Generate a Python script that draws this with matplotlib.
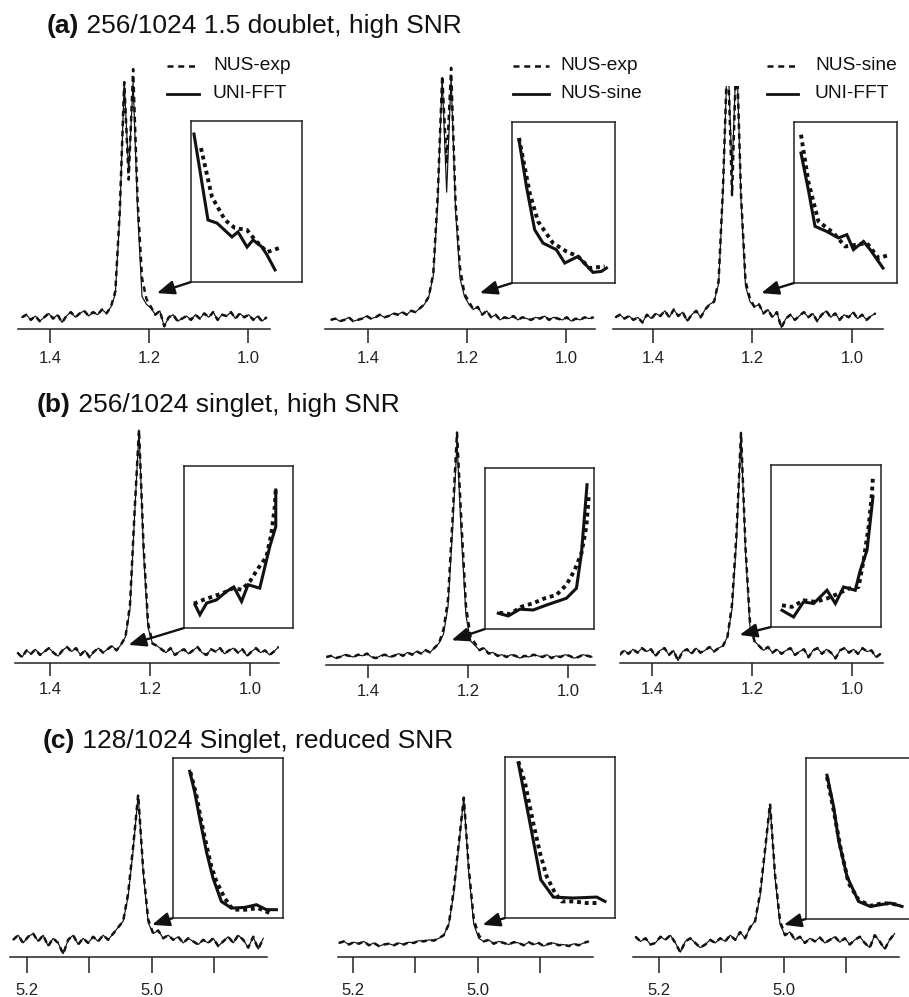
import numpy as np
import matplotlib
matplotlib.use("Agg")
import matplotlib.pyplot as plt
from matplotlib.lines import Line2D

plt.rcParams['font.family'] = ['Liberation Sans', 'DejaVu Sans']

# ---------------- data ----------------
# row (a): 1.5 doublet, chemical shift grid step 0.009 ppm
a1_solid = [0.01, 0.02, 0.00, 0.015, -0.005, 0.01, 0.025, 0.005, 0.02, -0.01,
            0.015, 0.03, 0.01, 0.025, 0.035, 0.015, 0.03, 0.02, 0.04, 0.025,
            0.05, 0.10, 0.40, 0.915, 0.565, 0.915, 0.42, 0.09, 0.06,
            0.045, 0.02, 0.035, -0.025, 0.01, 0.02, -0.005, 0.005, 0.015, 0.0,
            0.02, 0.005, 0.025, 0.01, 0.03, 0.0, 0.02, 0.015, 0.03, 0.005,
            0.025, 0.01, 0.02, 0.0, 0.015, -0.005, 0.01]
a1_dash_peak = {21: 0.11, 22: 0.42, 23: 0.915, 24: 0.54, 25: 0.965, 26: 0.46, 27: 0.16, 28: 0.08, 29: 0.05}

a2_solid = [0.0, 0.005, -0.005, 0.0, 0.01, -0.005, 0.0, 0.005, 0.015, 0.005,
            0.01, 0.02, 0.01, 0.015, 0.025, 0.02, 0.03, 0.02, 0.035, 0.03, 0.045,
            0.06, 0.09, 0.17, 0.45, 0.935, 0.49, 0.935, 0.42, 0.16, 0.09, 0.06,
            0.04, 0.05, 0.02, 0.035, 0.01, 0.02, 0.0, 0.01, 0.005, 0.015,
            0.0, 0.01, 0.005, 0.0, 0.01, 0.005, 0.015, 0.0, 0.01, 0.005,
            0.0, 0.01, -0.005, 0.005, 0.0, 0.01, 0.005, 0.01]
a2_dash_peak = {23: 0.18, 24: 0.48, 25: 0.94, 26: 0.60, 27: 0.97, 28: 0.45, 29: 0.20, 30: 0.10, 31: 0.07}

a3_solid = [0.01, 0.02, 0.005, 0.015, 0.0, 0.01, -0.01, 0.02, 0.005, 0.025,
            0.015, 0.035, 0.01, 0.04, 0.015, 0.03, -0.005, 0.02, 0.035, 0.01, 0.04, 0.06,
            0.07, 0.14, 0.50, 1.05, 0.565, 1.05, 0.46, 0.13, 0.07,
            0.05, 0.06, 0.025, 0.04, 0.01, 0.03, -0.03, 0.005, 0.02, 0.0,
            0.015, 0.03, 0.01, 0.025, -0.005, 0.02, 0.035, 0.01, 0.025, 0.0,
            0.02, 0.01, 0.03, 0.005, 0.02, 0.0, 0.015, 0.025]
a3_dash_peak = {23: 0.15, 24: 0.52, 26: 0.48, 28: 0.48, 29: 0.15, 30: 0.08}

# row (b): singlet
b1_solid = [0.01, -0.01, 0.02, 0.005, 0.025, 0.0, 0.015, 0.03, 0.01, -0.005,
            0.02, 0.035, 0.015, 0.03, 0.0, 0.02, -0.01, 0.015, 0.03, 0.01,
            0.025, 0.04, 0.02, 0.045,
            0.08, 0.20, 0.60, 0.984, 0.45, 0.12, 0.05,
            0.04, 0.025, 0.01, 0.03, 0.0, 0.015, 0.025, 0.005, 0.02, 0.035,
            0.01, 0.0, 0.025, 0.015, 0.03, 0.005, 0.02, 0.03, 0.01, 0.025,
            -0.005, 0.015, 0.03, 0.01, 0.02, 0.0, 0.015, 0.035]
b1_dash_peak = {25: 0.22, 26: 0.62, 28: 0.48, 29: 0.14}

b2_solid = [0.0, 0.005, -0.005, 0.0, 0.01, 0.005, 0.0, 0.01, 0.005, 0.015,
            0.0, -0.005, 0.005, 0.01, 0.0, 0.005, 0.015, 0.005, 0.02, 0.01,
            0.025, 0.015, 0.03, 0.02, 0.04, 0.06,
            0.10, 0.22, 0.55, 0.936, 0.52, 0.18, 0.07,
            0.05, 0.03, 0.04, 0.015, 0.02, 0.005, 0.01, 0.0, 0.01, 0.005,
            -0.005, 0.005, 0.0, 0.01, 0.005, 0.0, 0.01, -0.005, 0.005, 0.0,
            0.01, 0.005, -0.005, 0.0, 0.01, 0.005, 0.0]
b2_dash_peak = {26: 0.12, 27: 0.25, 28: 0.60, 29: 0.98, 30: 0.58, 31: 0.22, 32: 0.09, 33: 0.06}

b3_solid = [0.0, 0.02, 0.005, 0.025, 0.01, 0.03, 0.015, 0.025, -0.005, 0.02,
            0.03, 0.0, 0.02, -0.025, 0.015, 0.025, 0.005, 0.03, 0.01, 0.02,
            0.035, 0.015, 0.03, 0.04,
            0.08, 0.20, 0.50, 0.962, 0.45, 0.12, 0.06,
            0.04, 0.02, 0.035, 0.01, 0.025, 0.005, 0.02, 0.03, 0.0, 0.015,
            0.025, -0.01, 0.02, 0.03, 0.005, 0.025, 0.01, -0.015, 0.02, 0.03,
            0.01, 0.025, 0.005, 0.03, 0.015, 0.02, -0.01, 0.005]
b3_dash_peak = {25: 0.22, 26: 0.53, 27: 0.97, 28: 0.47, 29: 0.14}

# row (c): singlet, reduced SNR, grid step 0.008 ppm
c1_solid = [0.02, 0.05, 0.0, 0.04, 0.06, 0.01, 0.05, -0.02, 0.03, 0.0,
            -0.07, 0.02, 0.05, -0.01, 0.03, 0.0, 0.04, 0.01, 0.05, 0.02, 0.06, 0.1,
            0.14, 0.30, 0.60, 0.951, 0.45, 0.13, 0.06,
            0.08, 0.03, 0.05, 0.02, 0.04, 0.0, 0.03, 0.01, -0.01, 0.02, 0.0,
            0.03, -0.02, 0.01, 0.04, 0.0, 0.05, 0.02, -0.03, 0.04, -0.04, 0.03]
c1_dash_peak = {23: 0.32, 24: 0.62, 26: 0.47, 27: 0.15}

c2_solid = [0.0, 0.01, -0.01, 0.005, -0.005, 0.01, -0.015, 0.0, -0.02, -0.01,
            -0.005, -0.015, 0.0, -0.01, 0.005, 0.0, 0.015, 0.01, 0.02, 0.015, 0.03, 0.05,
            0.12, 0.32, 0.62, 0.932, 0.45, 0.12, 0.03,
            0.01, 0.02, -0.005, 0.01, 0.0, -0.01, 0.005, 0.0, -0.015, 0.005, -0.01,
            0.0, -0.02, -0.005, 0.0, -0.015, -0.01, -0.02, -0.005, -0.015, 0.0, 0.01]
c2_dash_peak = {23: 0.34, 24: 0.64, 26: 0.48, 27: 0.15, 28: 0.05}

c3_solid = [0.04, 0.01, 0.03, -0.01, 0.0, 0.04, 0.02, 0.05, 0.0, -0.06,
            0.01, 0.03, 0.0, -0.03, -0.01, 0.02, 0.0, 0.03, 0.01, 0.05,
            0.02, 0.07, 0.03, 0.1,
            0.14, 0.30, 0.58, 0.893, 0.42, 0.12, 0.05,
            0.07, 0.02, 0.04, 0.0, 0.03, 0.01, 0.035, 0.0, 0.02, 0.04,
            0.005, 0.03, -0.01, 0.02, 0.04, 0.0, -0.03, 0.05, 0.01, -0.04, 0.02, 0.06]
c3_dash_peak = {25: 0.32, 26: 0.60, 28: 0.44, 29: 0.14}

# insets (zoomed tail region, relative units)
ia1_sx = [0.027, 0.153, 0.234, 0.369, 0.423, 0.505, 0.559, 0.640, 0.685, 0.757]
ia1_sy = [0.919, 0.385, 0.366, 0.280, 0.311, 0.217, 0.261, 0.217, 0.168, 0.075]
ia1_dx = [0.090, 0.189, 0.306, 0.396, 0.505, 0.577, 0.685, 0.820]
ia1_dy = [0.832, 0.528, 0.385, 0.335, 0.323, 0.261, 0.186, 0.217]

ia2_sx = [0.068, 0.140, 0.220, 0.301, 0.431, 0.512, 0.641, 0.786, 0.868, 0.917]
ia2_sy = [0.890, 0.600, 0.331, 0.248, 0.207, 0.124, 0.165, 0.066, 0.072, 0.093]
ia2_dx = [0.068, 0.172, 0.252, 0.398, 0.528, 0.641, 0.754, 0.900]
ia2_dy = [0.901, 0.559, 0.383, 0.248, 0.196, 0.165, 0.093, 0.103]

ia3_sx = [0.068, 0.139, 0.204, 0.318, 0.431, 0.513, 0.577, 0.675, 0.740, 0.864]
ia3_sy = [0.807, 0.580, 0.352, 0.320, 0.280, 0.300, 0.207, 0.258, 0.207, 0.093]
ia3_dx = [0.068, 0.139, 0.237, 0.383, 0.497, 0.611, 0.708, 0.821, 0.935]
ia3_dy = [0.921, 0.631, 0.383, 0.311, 0.227, 0.238, 0.248, 0.155, 0.176]

ib1_sx = [0.101, 0.146, 0.208, 0.299, 0.391, 0.457, 0.528, 0.588, 0.695, 0.787, 0.842, 0.842]
ib1_sy = [0.144, 0.082, 0.154, 0.174, 0.226, 0.253, 0.164, 0.267, 0.246, 0.503, 0.626, 0.852]
ib1_dx = [0.091, 0.177, 0.268, 0.360, 0.451, 0.528, 0.604, 0.671, 0.757, 0.802, 0.833, 0.842]
ib1_dy = [0.150, 0.174, 0.195, 0.216, 0.246, 0.236, 0.287, 0.359, 0.441, 0.585, 0.749, 0.863]

ib2_sx = [0.122, 0.213, 0.320, 0.442, 0.565, 0.747, 0.839, 0.885, 0.936]
ib2_sy = [0.098, 0.081, 0.123, 0.118, 0.149, 0.191, 0.253, 0.471, 0.896]
ib2_dx = [0.131, 0.229, 0.336, 0.442, 0.549, 0.656, 0.747, 0.823, 0.885, 0.930, 0.954]
ib2_dy = [0.101, 0.093, 0.139, 0.160, 0.191, 0.212, 0.274, 0.367, 0.471, 0.637, 0.844]

ib3_sx = [0.100, 0.205, 0.296, 0.387, 0.509, 0.585, 0.660, 0.766, 0.812, 0.873, 0.927]
ib3_sy = [0.103, 0.062, 0.155, 0.145, 0.227, 0.145, 0.247, 0.227, 0.351, 0.474, 0.804]
ib3_dx = [0.100, 0.191, 0.296, 0.403, 0.509, 0.615, 0.705, 0.796, 0.842, 0.887, 0.918, 0.927]
ib3_dy = [0.134, 0.124, 0.165, 0.155, 0.176, 0.207, 0.237, 0.247, 0.412, 0.618, 0.825, 0.932]

ic1_sx = [0.152, 0.197, 0.243, 0.304, 0.364, 0.440, 0.531, 0.652, 0.758, 0.849, 0.940]
ic1_sy = [0.917, 0.788, 0.622, 0.414, 0.249, 0.103, 0.062, 0.066, 0.083, 0.052, 0.052]
ic1_dx = [0.158, 0.213, 0.258, 0.304, 0.349, 0.395, 0.470, 0.545, 0.667, 0.773, 0.879]
ic1_dy = [0.912, 0.767, 0.601, 0.456, 0.321, 0.228, 0.124, 0.052, 0.052, 0.062, 0.031]

ic2_sx = [0.121, 0.227, 0.325, 0.439, 0.621, 0.834, 0.909]
ic2_sy = [0.963, 0.590, 0.238, 0.130, 0.124, 0.130, 0.103]
ic2_dx = [0.121, 0.182, 0.257, 0.318, 0.379, 0.455, 0.515, 0.621, 0.742, 0.848]
ic2_dy = [0.973, 0.839, 0.590, 0.404, 0.258, 0.155, 0.103, 0.103, 0.093, 0.093]

ic3_sx = [0.191, 0.251, 0.296, 0.373, 0.478, 0.585, 0.766, 0.873]
ic3_sy = [0.893, 0.697, 0.491, 0.264, 0.109, 0.078, 0.099, 0.078]
ic3_dx = [0.191, 0.251, 0.312, 0.387, 0.478, 0.585, 0.705, 0.857]
ic3_dy = [0.882, 0.676, 0.449, 0.223, 0.119, 0.082, 0.099, 0.088]

ab_ticks = [1.4, 1.2, 1.0]
ab_labels = ['1.4', '1.2', '1.0']
c_ticks = [5.2, 5.1, 5.0, 4.9]
c_labels = ['5.2', '', '5.0', '']

titles = [('(a)', ' 256/1024 1.5 doublet, high SNR'),
          ('(b)', ' 256/1024 singlet, high SNR'),
          ('(c)', ' 128/1024 Singlet, reduced SNR')]
legend_a = [('NUS-exp', 'UNI-FFT'), ('NUS-exp', 'NUS-sine'), ('NUS-sine', 'UNI-FFT')]

# ---------------- figure ----------------
W, H = 909, 997
fig = plt.figure(figsize=(W / 100, H / 100), dpi=100)


def frect(x0, x1, ytop, ybot):
    return [x0 / W, 1 - ybot / H, (x1 - x0) / W, (ybot - ytop) / H]


def with_peak(base, peak):
    arr = list(base)
    for k, v in peak.items():
        arr[k] = v
    return arr


def panel(px, xlim, ylim, start, step, solid, dash_peak, ticks, labels, tlen, pad):
    ax = fig.add_axes(frect(*px))
    ax.patch.set_alpha(0)
    x = start - step * np.arange(len(solid))
    ax.plot(x, solid, color='#111111', lw=0.85, solid_joinstyle='miter')
    ax.plot(x, with_peak(solid, dash_peak), color='#111111', lw=1.8,
            dashes=(2.2, 1.8))
    ax.set_xlim(*xlim)
    ax.set_ylim(*ylim)
    for s in ('top', 'left', 'right'):
        ax.spines[s].set_visible(False)
    ax.spines['bottom'].set_linewidth(1.1)
    ax.spines['bottom'].set_color('#222222')
    ax.set_yticks([])
    ax.set_xticks(ticks)
    ax.set_xticklabels(labels)
    ax.tick_params(axis='x', direction='out', length=tlen, width=1.1,
                   pad=pad, labelsize=12, colors='#222222')
    return ax


def inset(px, sx, sy, dx, dy):
    ia = fig.add_axes(frect(*px))
    ia.set_facecolor('white')
    ia.plot(sx, sy, color='#111111', lw=2.2, solid_joinstyle='miter')
    ia.plot(dx, dy, color='#111111', lw=2.8, dashes=(1.0, 1.0))
    ia.set_xlim(0, 1)
    ia.set_ylim(0, 1)
    ia.set_xticks([])
    ia.set_yticks([])
    for s in ia.spines.values():
        s.set_linewidth(1.1)
        s.set_color('#222222')
    return ia


def arrow(ax, ia, tip):
    ax.annotate('', xy=tip, xycoords='data', xytext=(0, 0), textcoords=ia.transAxes,
                arrowprops=dict(arrowstyle='-|>,head_length=0.75,head_width=0.3',
                                color='#111111', lw=1.7, shrinkA=0, shrinkB=0,
                                mutation_scale=14), annotation_clip=False)


ylim_a = (-0.035, 1.0)
ylim_b = (-0.035, 1.0)
ylim_c = (-0.09, 1.0)

panels = [
    # px rect, xlim, ylim, start, step, solid, dash, inset rect, inset data, arrow tip
    ((18, 270, 60, 329), (1.465, 0.955), ylim_a, 1.457, 0.009, a1_solid, a1_dash_peak,
     (191, 302, 121, 282), (ia1_sx, ia1_sy, ia1_dx, ia1_dy), (1.184, 0.103), 'a'),
    ((325, 595, 60, 329), (1.487, 0.941), ylim_a, 1.475, 0.009, a2_solid, a2_dash_peak,
     (512, 615, 122, 283), (ia2_sx, ia2_sy, ia2_dx, ia2_dy), (1.174, 0.103), 'a'),
    ((613, 883, 86, 329), (1.480, 0.938), (-0.035, 0.9), 1.475, 0.009, a3_solid, a3_dash_peak,
     (794, 897, 122, 283), (ia3_sx, ia3_sy, ia3_dx, ia3_dy), (1.1825, 0.103), 'a'),
    ((15, 279, 426, 663), (1.470, 0.942), ylim_b, 1.465, 0.009, b1_solid, b1_dash_peak,
     (184, 293, 466, 628), (ib1_sx, ib1_sy, ib1_dx, ib1_dy), (1.243, 0.044), 'b'),
    ((326, 595, 428, 665), (1.484, 0.946), ylim_b, 1.483, 0.009, b2_solid, b2_dash_peak,
     (485, 594, 468, 629), (ib2_sx, ib2_sy, ib2_dx, ib2_dy), (1.233, 0.073), 'b'),
    ((620, 883, 426, 663), (1.464, 0.938), ylim_b, 1.465, 0.009, b3_solid, b3_dash_peak,
     (771, 881, 465, 627), (ib3_sx, ib3_sy, ib3_dx, ib3_dy), (1.225, 0.0875), 'b'),
    ((10, 267, 787, 957), (5.227, 4.816), ylim_c, 5.222, 0.008, c1_solid, c1_dash_peak,
     (173, 283, 758, 918), (ic1_sx, ic1_sy, ic1_dx, ic1_dy), (5.0, 0.116), 'c'),
    ((338, 593, 787, 957), (5.2235, 4.815), ylim_c, 5.222, 0.008, c2_solid, c2_dash_peak,
     (505, 615, 757, 918), (ic2_sx, ic2_sy, ic2_dx, ic2_dy), (4.992, 0.116), 'c'),
    ((633, 899, 787, 957), (5.242, 4.815), ylim_c, 5.238, 0.008, c3_solid, c3_dash_peak,
     (806, 916, 758, 919), (ic3_sx, ic3_sy, ic3_dx, ic3_dy), (5.0, 0.116), 'c'),
]

tick_style = {'a': (10, 5.5), 'b': (9, 5.0), 'c': (11.5, 7.0)}
for (px, xl, yl, st, sp, sol, dp, ipx, idata, tip, kind) in panels:
    tlen, pad = tick_style[kind]
    if kind in ('a', 'b'):
        ax = panel(px, xl, yl, st, sp, sol, dp, ab_ticks, ab_labels, tlen, pad)
    else:
        ax = panel(px, xl, yl, st, sp, sol, dp, c_ticks, c_labels, tlen, pad)
    ia = inset(ipx, *idata)
    arrow(ax, ia, tip)

# legends (row a)
leg_pos = [(167, 199, 213), (513, 549, 560), (767, 798, 815)]
for (x0, x1, xt), (ldash, lsolid) in zip(leg_pos, legend_a):
    fig.add_artist(Line2D([x0 / W, x1 / W], [1 - 66 / H] * 2, transform=fig.transFigure,
                          color='#111111', lw=1.8, dashes=(2.4, 1.9)))
    fig.add_artist(Line2D([x0 / W, x1 / W], [1 - 94 / H] * 2, transform=fig.transFigure,
                          color='#111111', lw=2.0))
    fig.text(xt / W, 1 - 65 / H, ldash, fontsize=13.8, va='center', ha='left', color='#111111')
    fig.text(xt / W, 1 - 93 / H, lsolid, fontsize=13.8, va='center', ha='left', color='#111111')

# titles
title_pos = [(47, 33), (37, 412), (43, 748)]
fig.canvas.draw()
renderer = fig.canvas.get_renderer()
for (x, yb), (bold, rest) in zip(title_pos, titles):
    t1 = fig.text(x / W, 1 - yb / H, bold, fontsize=19, weight='bold', va='baseline',
                  ha='left', color='#111111')
    bb = t1.get_window_extent(renderer=renderer)
    fig.text(bb.x1 / W, 1 - yb / H, rest, fontsize=19, va='baseline', ha='left',
             color='#111111')

fig.savefig('out.png', dpi=100)
